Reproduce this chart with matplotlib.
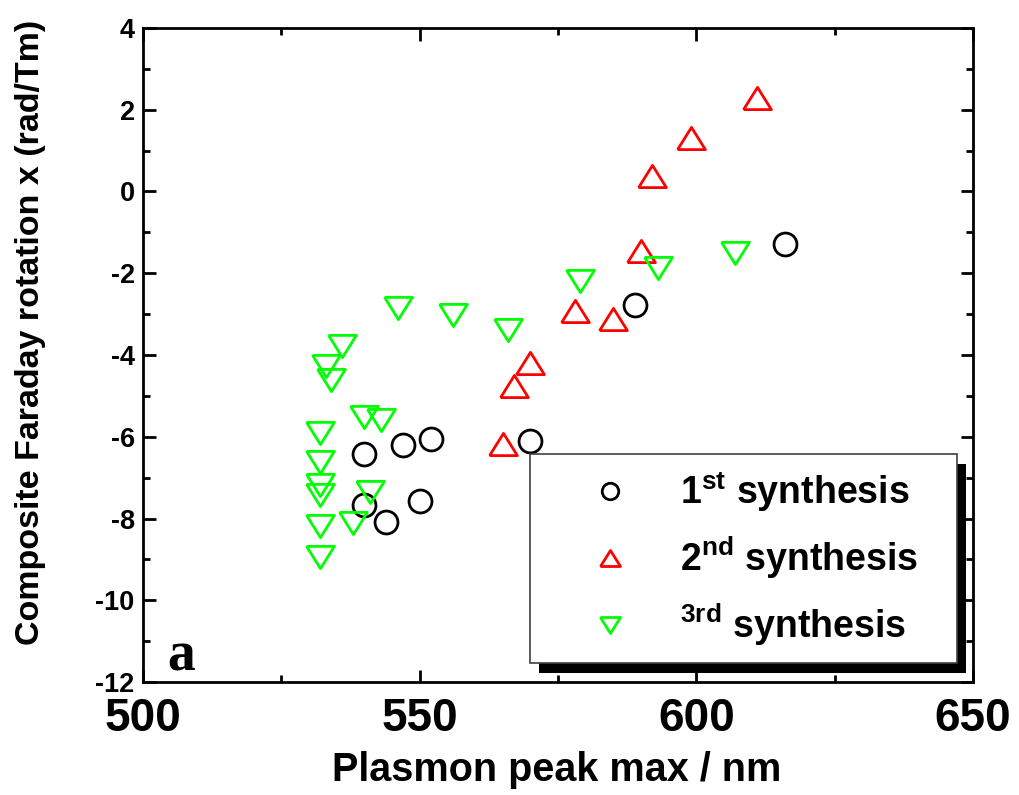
import matplotlib
matplotlib.use("Agg")
import matplotlib.pyplot as plt
from matplotlib.patches import Rectangle
from matplotlib.ticker import MultipleLocator

plt.rcParams["font.family"] = ["Liberation Sans", "DejaVu Sans"]
plt.rcParams["mathtext.fontset"] = "custom"
plt.rcParams["mathtext.bf"] = "Liberation Sans:bold"
plt.rcParams["mathtext.rm"] = "Liberation Sans:bold"
plt.rcParams["mathtext.default"] = "bf"
plt.rcParams["axes.unicode_minus"] = False

# 1st synthesis (black circles)
s1_x = [540, 547, 552, 570, 540, 544, 550, 589, 616]
s1_y = [-6.42, -6.20, -6.05, -6.10, -7.66, -8.09, -7.56, -2.77, -1.28]

# 2nd synthesis (red up triangles)
s2_x = [611, 599, 592, 590, 578, 585, 570, 567, 565]
s2_y = [2.28, 1.30, 0.38, -1.45, -2.92, -3.12, -4.20, -4.76, -6.18]

# 3rd synthesis (green down triangles)
s3_x = [546, 556, 566, 536, 533, 534, 540, 543, 532, 532, 532, 532,
        541, 532, 538, 532, 579, 593, 607]
s3_y = [-2.84, -3.03, -3.40, -3.78, -4.28, -4.61, -5.52, -5.59, -5.92, -6.61, -7.17, -7.42,
        -7.36, -8.19, -8.12, -8.94, -2.20, -1.88, -1.51]

labels = [r"1$^{st}$ synthesis", r"2$^{nd}$ synthesis", r"$^{3rd}$ synthesis"]

# flattened triangles like the original markers
tri_up = [(-1, -0.8), (1, -0.8), (0, 0.8), (-1, -0.8)]
tri_down = [(-1, 0.8), (1, 0.8), (0, -0.8), (-1, 0.8)]

fig = plt.figure(figsize=(10.19, 7.95), dpi=100)
ax = fig.add_axes([0.1403, 0.1421, 0.8146, 0.8227])

ax.plot(s1_x, s1_y, linestyle="none", marker="o", markersize=16.5, mfc="none",
        mec="black", mew=2, label=labels[0])
ax.plot(s2_x, s2_y, linestyle="none", marker=tri_up, markersize=20, mfc="none",
        mec="#ff0000", mew=2, label=labels[1])
ax.plot(s3_x, s3_y, linestyle="none", marker=tri_down, markersize=20, mfc="none",
        mec="#00ff00", mew=2, label=labels[2])

ax.set_xlim(500, 650)
ax.set_ylim(-12, 4)
ax.xaxis.set_major_locator(MultipleLocator(50))
ax.xaxis.set_minor_locator(MultipleLocator(25))
ax.yaxis.set_major_locator(MultipleLocator(2))
ax.yaxis.set_minor_locator(MultipleLocator(1))

for sp in ax.spines.values():
    sp.set_linewidth(2)
ax.tick_params(which="both", direction="in", top=True, right=True, width=2)
ax.tick_params(which="major", length=9)
ax.tick_params(which="minor", length=5)
ax.tick_params(axis="x", labelsize=33, pad=11)
ax.tick_params(axis="y", labelsize=19.5, pad=6)
for lab in ax.get_xticklabels() + ax.get_yticklabels():
    lab.set_fontweight("bold")

ax.set_xlabel("Plasmon peak max / nm", fontsize=28.5, fontweight="bold")
ax.set_ylabel("Composite Faraday rotation x (rad/Tm)", fontsize=24.5, fontweight="bold")
ax.xaxis.set_label_coords(0.499, -0.106)
ax.yaxis.set_label_coords(-0.117, 0.535)

ax.text(0.029, 0.017, "a", transform=ax.transAxes, fontsize=40, fontweight="bold",
        family=["Liberation Serif", "DejaVu Serif"], va="baseline", ha="left")

leg = ax.legend(loc="lower left", bbox_to_anchor=(0.466, 0.029, 0.515, 0.315), mode="expand",
                borderaxespad=0, markerscale=0.72, handlelength=3.5, handletextpad=0.1,
                borderpad=0.4, labelspacing=0.55, fancybox=False, framealpha=1,
                edgecolor="#404040", prop={"weight": "bold", "size": 27})
leg.get_frame().set_linewidth(1.2)
leg.set_zorder(6)

# solid black drop shadow behind the legend box
fig.canvas.draw()
bb = leg.get_window_extent()
inv = ax.transAxes.inverted()
(x0, y0), (x1, y1) = inv.transform([(bb.x0 + 9, bb.y0 - 10), (bb.x1 + 9, bb.y1 - 10)])
ax.add_patch(Rectangle((x0, y0), x1 - x0, y1 - y0, transform=ax.transAxes,
                       facecolor="black", edgecolor="none", zorder=5.5, clip_on=False))

fig.savefig("out.png", dpi=100)
